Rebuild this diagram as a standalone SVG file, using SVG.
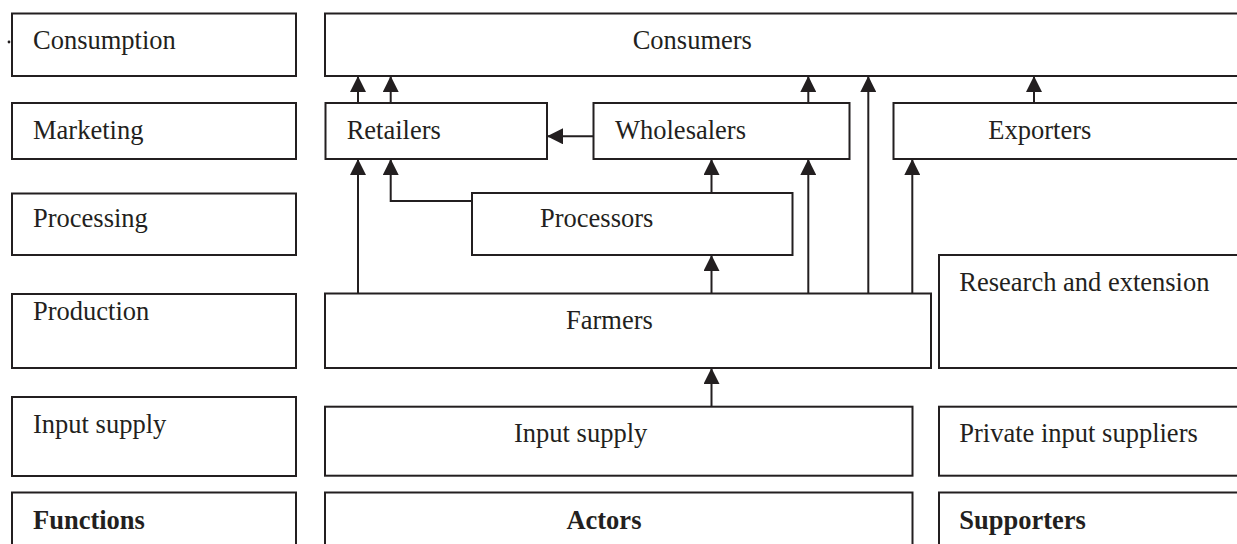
<svg xmlns="http://www.w3.org/2000/svg" width="1237" height="544" viewBox="0 0 1237 544">
  <style>
    .box { fill: #ffffff; stroke: #231f20; stroke-width: 2; }
    .lbl { font-family: "Liberation Serif", "Times New Roman", serif; font-size: 26.5px; fill: #231f20; }
    .bold { font-weight: bold; }
    .link { fill: none; stroke: #231f20; stroke-width: 2; marker-end: url(#head); }
  </style>
  <defs>
    <marker id="head" markerUnits="userSpaceOnUse" markerWidth="16" markerHeight="16" refX="16" refY="8" orient="auto">
      <path d="M0,0 L16,8 L0,16 Z" fill="#231f20"/>
    </marker>
  </defs>
  <rect width="1237" height="544" fill="#ffffff"/>
  <circle cx="9" cy="42" r="1.4" fill="#231f20"/>

  <!-- Functions column -->
  <g id="fn-consumption"><rect class="box" x="12" y="13.5" width="284" height="62.5"/><text class="lbl" x="33" y="48.5">Consumption</text></g>
  <g id="fn-marketing"><rect class="box" x="12" y="103" width="284" height="56"/><text class="lbl" x="33" y="138.5">Marketing</text></g>
  <g id="fn-processing"><rect class="box" x="12" y="193.5" width="284" height="61.5"/><text class="lbl" x="33" y="227">Processing</text></g>
  <g id="fn-production"><rect class="box" x="12" y="294" width="284" height="74"/><text class="lbl" x="33" y="320">Production</text></g>
  <g id="fn-input"><rect class="box" x="12" y="397" width="284" height="79"/><text class="lbl" x="33" y="433">Input supply</text></g>
  <g id="fn-header"><rect class="box" x="12" y="492.5" width="284" height="60"/><text class="lbl bold" x="33" y="528.5">Functions</text></g>

  <!-- Actors column -->
  <g id="consumers"><rect class="box" x="325" y="13.5" width="930" height="62.5"/><text class="lbl" x="632.7" y="48.5">Consumers</text></g>
  <g id="retailers"><rect class="box" x="325.5" y="103" width="221.5" height="56"/><text class="lbl" x="346.7" y="138.5">Retailers</text></g>
  <g id="wholesalers"><rect class="box" x="593.5" y="103" width="256" height="56"/><text class="lbl" x="615" y="138.5">Wholesalers</text></g>
  <g id="exporters"><rect class="box" x="893.5" y="103" width="360" height="56"/><text class="lbl" x="988.3" y="138.5">Exporters</text></g>
  <g id="processors"><rect class="box" x="472" y="193" width="320.5" height="62"/><text class="lbl" x="540" y="227">Processors</text></g>
  <g id="farmers"><rect class="box" x="325" y="293.5" width="606" height="74.5"/><text class="lbl" x="566" y="328.5">Farmers</text></g>
  <g id="input-supply"><rect class="box" x="325" y="406.7" width="587.5" height="69"/><text class="lbl" x="514" y="441.7">Input supply</text></g>
  <g id="actors-header"><rect class="box" x="325" y="492.5" width="587.5" height="60"/><text class="lbl bold" x="566.4" y="528.5">Actors</text></g>

  <!-- Supporters column -->
  <g id="research"><rect class="box" x="939" y="255" width="320" height="113"/><text class="lbl" x="959.3" y="291">Research and extension</text></g>
  <g id="private-input"><rect class="box" x="939" y="406.7" width="320" height="69"/><text class="lbl" x="959.3" y="441.7">Private input suppliers</text></g>
  <g id="supporters-header"><rect class="box" x="939" y="492.5" width="320" height="60"/><text class="lbl bold" x="959.3" y="528.5">Supporters</text></g>

  <!-- Flows between actors -->
  <g id="connectors">
    <path class="link" d="M358,103 V76"/>
    <path class="link" d="M390.7,103 V76"/>
    <path class="link" d="M808.3,103 V76"/>
    <path class="link" d="M868.3,293.5 V76"/>
    <path class="link" d="M1034,103 V76"/>
    <path class="link" d="M593.5,136.3 H547"/>
    <path class="link" d="M358,293.5 V159"/>
    <path class="link" d="M472,201 H390.7 V159"/>
    <path class="link" d="M711.5,193 V159"/>
    <path class="link" d="M808.3,293.5 V159"/>
    <path class="link" d="M912.3,293.5 V159"/>
    <path class="link" d="M711.5,293.5 V255"/>
    <path class="link" d="M711.5,406.7 V368"/>
  </g>
</svg>
